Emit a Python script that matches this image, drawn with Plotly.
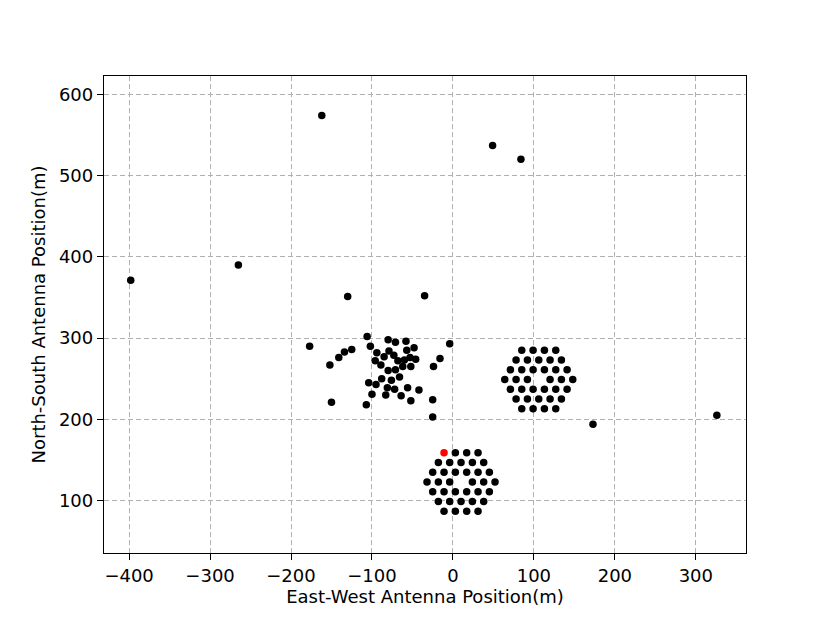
import plotly.graph_objects as go

# ── 안테나 위치 데이터 (m) ─────────────────────────────────────────────────
# 흩어진 안테나 (outriggers + 중앙 군집)
scatter_x = [
    -162, 49, 84, -398, -265, 173, 326,
    -130, -35, -177, -106, -80, -71, -58, -4, -102, -125, -134, -141, -152,
    -94, -79, -57, -48, -85, -73, -68, -60, -53, -46, -96, -89, -16, -24,
    -62, -52, -80, -71, -66, -88, -76, -104, -95, -81, -72, -56, -42, -100,
    -83, -64, -52, -25, -150, -107, -25,
]
scatter_y = [
    574, 537, 520, 371, 390, 194, 205,
    351, 352, 290, 302, 298, 295, 296, 293, 290, 286, 283, 276, 267,
    282, 284, 285, 288, 277, 279, 272, 273, 276, 274, 272, 267, 275, 265,
    265, 265, 260, 261, 252, 250, 248, 245, 243, 239, 237, 239, 236, 231,
    230, 229, 223, 224, 221, 218, 203,
]

# 육각 배열 A (오른쪽 위)
hex_a_x = [
    85, 99, 113, 127,
    78, 92, 106, 120, 134,
    71, 85, 99, 113, 127, 141,
    64, 78, 92, 120, 134, 148,
    71, 85, 99, 113, 127, 141,
    78, 92, 106, 120, 134,
    85, 99, 113, 127,
]
hex_a_y = [
    285, 285, 285, 285,
    273, 273, 273, 273, 273,
    261, 261, 261, 261, 261, 261,
    249, 249, 249, 249, 249, 249,
    237, 237, 237, 237, 237, 237,
    225, 225, 225, 225, 225,
    213, 213, 213, 213,
]

# 육각 배열 B (아래)
hex_b_x = [
    3, 17, 31,
    -18, -4, 10, 24, 38,
    -25, -11, 3, 17, 31, 45,
    -32, -18, -4, 24, 38, 52,
    -25, -11, 3, 17, 31, 45,
    -18, -4, 10, 24, 38,
    -11, 3, 17, 31,
]
hex_b_y = [
    159, 159, 159,
    147, 147, 147, 147, 147,
    135, 135, 135, 135, 135, 135,
    123, 123, 123, 123, 123, 123,
    111, 111, 111, 111, 111, 111,
    99, 99, 99, 99, 99,
    87, 87, 87, 87,
]

# 기준 안테나 (빨간 점)
ref_x = [-11]
ref_y = [159]

FONT = "DejaVu Sans, Liberation Sans, sans-serif"

fig = go.Figure()
fig.add_trace(go.Scatter(
    x=scatter_x + hex_a_x + hex_b_x,
    y=scatter_y + hex_a_y + hex_b_y,
    mode="markers",
    marker=dict(color="black", size=7.5, line=dict(width=0)),
    showlegend=False,
))
fig.add_trace(go.Scatter(
    x=ref_x, y=ref_y,
    mode="markers",
    marker=dict(color="red", size=7.5, line=dict(width=0)),
    showlegend=False,
))

axis_common = dict(
    showline=True, linecolor="black", linewidth=1.3, mirror=True,
    ticks="outside", ticklen=6, tickwidth=1.3, tickcolor="black",
    showgrid=True, gridcolor="#b0b0b0", gridwidth=1, griddash="5px,3px",
    zeroline=False, layer="above traces",
    tickfont=dict(size=18, color="black", family=FONT),
)

# 페이지 body 여백(8px)을 감안해 크기/여백 보정
fig.update_layout(
    width=822, height=615,
    plot_bgcolor="white",
    paper_bgcolor="white",
    font=dict(family=FONT, color="black", size=18),
    margin=dict(l=96, r=84, t=68, b=70),
    xaxis=dict(
        title=dict(text="East-West Antenna Position(m)", font=dict(size=18), standoff=4),
        range=[-431, 362], tickvals=[-400, -300, -200, -100, 0, 100, 200, 300],
        **axis_common,
    ),
    yaxis=dict(
        title=dict(text="North-South Antenna Position(m)", font=dict(size=18), standoff=8),
        range=[35.5, 622.5], tickvals=[100, 200, 300, 400, 500, 600],
        **axis_common,
    ),
)

fig.write_html("out.html")
